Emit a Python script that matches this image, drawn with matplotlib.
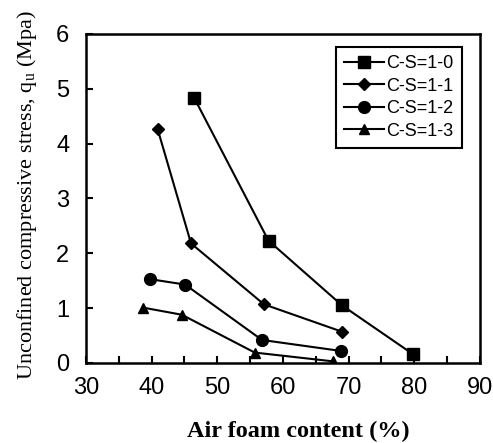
import numpy as np
import matplotlib.pyplot as plt
from matplotlib.ticker import MultipleLocator

# air foam content (%) and unconfined compressive stress (MPa)
x_10 = [46.5, 57.8, 69.0, 79.8]
y_10 = [4.83, 2.23, 1.05, 0.16]
x_11 = [40.9, 46.0, 57.1, 69.0]
y_11 = [4.27, 2.18, 1.07, 0.57]
x_12 = [39.7, 45.1, 56.8, 68.8]
y_12 = [1.53, 1.43, 0.42, 0.22]
x_13 = [38.7, 44.6, 55.7, 67.6]
y_13 = [1.01, 0.88, 0.19, 0.03]
labels = ['C-S=1-0', 'C-S=1-1', 'C-S=1-2', 'C-S=1-3']

fig = plt.figure(figsize=(4.93, 4.43), dpi=100)
ax = fig.add_axes([0.1744, 0.1806, 0.7992, 0.7427])

ax.plot(x_10, y_10, marker='s', ms=8.5, color='black', lw=1.5, label=labels[0])
ax.plot(x_11, y_11, marker='D', ms=6.5, color='black', lw=1.5, label=labels[1])
ax.plot(x_12, y_12, marker='o', ms=8.5, color='black', lw=1.5, label=labels[2])
ax.plot(x_13, y_13, marker='^', ms=7.5, color='black', lw=1.5, label=labels[3])

ax.set_xlim(30, 90)
ax.set_ylim(0, 6)
ax.xaxis.set_major_locator(MultipleLocator(10))
ax.xaxis.set_minor_locator(MultipleLocator(5))
ax.yaxis.set_major_locator(MultipleLocator(1))
ax.tick_params(which='both', direction='in', length=5, width=1.5,
               top=False, right=False, labelsize=17)
ax.tick_params(axis='y', pad=12)
ax.tick_params(axis='x', which='both', pad=10)
for lab in ax.get_xticklabels() + ax.get_yticklabels():
    lab.set_family('Liberation Sans')
for s in ax.spines.values():
    s.set_linewidth(1.8)

ax.set_xlabel('Air foam content (%)', family='Liberation Serif',
              fontweight='bold', fontsize=17.5)
ax.xaxis.set_label_coords(0.54, -0.175)
ax.set_ylabel('Unconfined compressive stress, q$_\\mathregular{u}$ (Mpa)',
              family='Liberation Serif', fontsize=16)
ax.yaxis.set_label_coords(-0.12, 0.51)

leg = ax.legend(loc='upper right', bbox_to_anchor=(0.954, 0.96),
                prop={'family': 'Liberation Sans', 'size': 13},
                fancybox=False, edgecolor='black', framealpha=1,
                handlelength=2.2, handletextpad=0.15, labelspacing=0.3,
                borderaxespad=0.0, borderpad=0.45)
leg.get_frame().set_linewidth(1.5)

fig.savefig('out.png', dpi=100)
